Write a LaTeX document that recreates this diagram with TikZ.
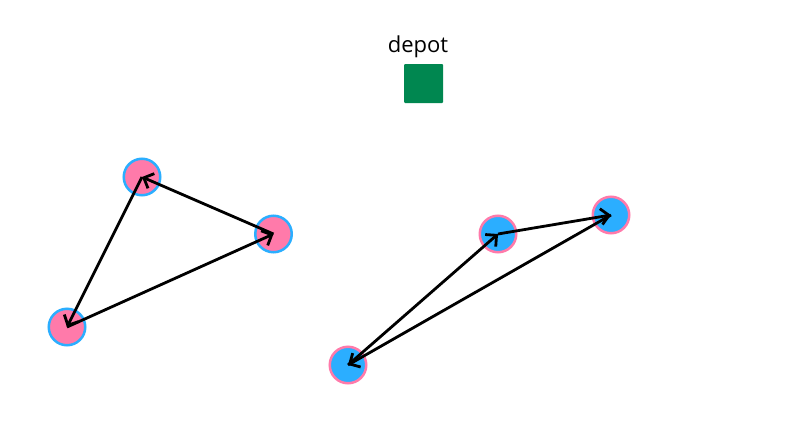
\documentclass[tikz,border=0pt]{standalone}
\usepackage{fontspec}
\setmainfont{Open Sans}
\usetikzlibrary{arrows.meta}
\definecolor{pinkc}{RGB}{255,122,170}
\definecolor{bluec}{RGB}{43,174,255}
\definecolor{depotc}{RGB}{0,135,80}
\begin{document}
\begin{tikzpicture}[x=1pt,y=-1pt,
  pinknode/.style={circle,fill=pinkc,draw=bluec,line width=2.5pt,minimum size=36.5pt,inner sep=0pt},
  bluenode/.style={circle,fill=bluec,draw=pinkc,line width=2.5pt,minimum size=36.5pt,inner sep=0pt},
  route/.style={line width=2.8pt,-{Straight Barb[length=8pt,width=16pt,line width=2.8pt]},shorten >=0pt}]
\useasboundingbox (0,0) rectangle (797,439);
\node[fill=depotc,minimum size=39pt,inner sep=0pt,rounded corners=1pt] (depot) at (423.5,83.5) {};
\node[font=\fontsize{22}{24}\selectfont,inner sep=0pt] (lbl) at (418,47) {depot};
\node[pinknode] (a) at (142,177) {};
\node[pinknode] (b) at (273.5,234) {};
\node[pinknode] (c) at (67,327) {};
\node[bluenode] (d) at (498,234) {};
\node[bluenode] (e) at (611,215) {};
\node[bluenode] (f) at (348,365) {};
\draw[route] (a.center) -- (c.center);
\draw[route] (c.center) -- (b.center);
\draw[route] (b.center) -- (a.center);
\draw[route] (d.center) -- (e.center);
\draw[route] (e.center) -- (f.center);
\draw[route] (f.center) -- (d.center);
\end{tikzpicture}
\end{document}
